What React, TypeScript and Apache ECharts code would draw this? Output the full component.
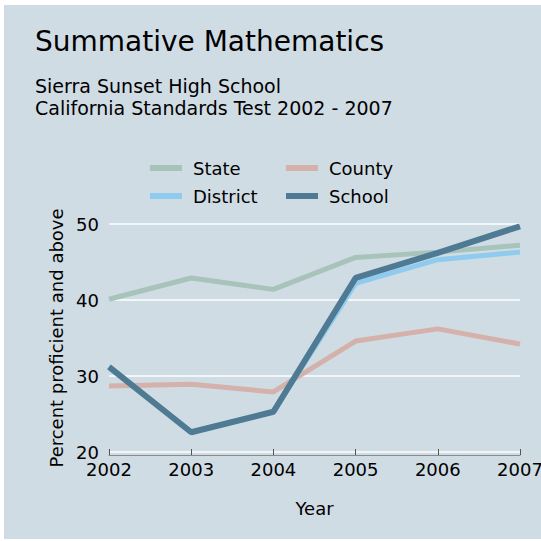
import React, { useEffect, useRef } from "react";
import * as echarts from "echarts";

const years = ["2002", "2003", "2004", "2005", "2006", "2007"];
const stateVals = [40.1, 42.9, 41.4, 45.6, 46.3, 47.2];
const countyVals = [28.7, 28.9, 27.9, 34.6, 36.2, 34.2];
const districtVals = [31.2, 22.6, 25.3, 42.2, 45.3, 46.3];
const schoolVals = [31.2, 22.6, 25.3, 42.9, 46.2, 49.7];

const FONT = "DejaVu Sans";

export default function App() {
  const ref = useRef<HTMLDivElement>(null);
  useEffect(() => {
    const chart = echarts.init(ref.current!, null, { renderer: "svg" });
    const mk = (name: string, data: number[], color: string, w: number) => ({
      name,
      type: "line",
      data,
      color,
      symbol: "none",
      lineStyle: { color, width: w },
      itemStyle: { color },
    });
    const legendText = { fontFamily: FONT, fontSize: 18, color: "#000", padding: [0, 0, 0, 6] };
    chart.setOption({
      animation: false,
      backgroundColor: "#ffffff",
      graphic: [
        {
          type: "rect",
          z: -10,
          shape: { x: 4, y: 5, width: 537, height: 534 },
          style: { fill: "#d0dce4" },
          silent: true,
        },
      ],
      title: {
        text: "Summative Mathematics",
        subtext: "Sierra Sunset High School\nCalifornia Standards Test 2002 - 2007",
        left: 30,
        top: 22,
        itemGap: 20,
        textStyle: { fontFamily: FONT, fontSize: 28, fontWeight: "normal", color: "#000" },
        subtextStyle: { fontFamily: FONT, fontSize: 19, color: "#000", lineHeight: 22 },
      },
      legend: [
        {
          left: 145,
          top: 154,
          orient: "vertical",
          data: ["State", "District"],
          icon: "rect",
          itemWidth: 32,
          itemHeight: 6,
          itemGap: 10,
          textStyle: legendText,
        },
        {
          left: 281,
          top: 154,
          orient: "vertical",
          data: ["County", "School"],
          icon: "rect",
          itemWidth: 32,
          itemHeight: 6,
          itemGap: 10,
          textStyle: legendText,
        },
      ],
      grid: {
        left: 109,
        right: 21,
        top: 224,
        bottom: 89,
        containLabel: false,
        outerBoundsMode: "none",
      },
      xAxis: {
        type: "category",
        data: years,
        boundaryGap: false,
        name: "Year",
        nameLocation: "middle",
        nameGap: 44,
        nameTextStyle: { fontFamily: FONT, fontSize: 18, color: "#000" },
        offset: 3,
        axisLine: { show: true, lineStyle: { color: "#8a8a8a", width: 1 } },
        axisTick: { show: true, inside: true, length: 6, lineStyle: { color: "#555" } },
        axisLabel: { fontFamily: FONT, fontSize: 18, color: "#000", margin: 5 },
        splitLine: { show: false },
      },
      yAxis: {
        type: "value",
        min: 20,
        max: 50,
        interval: 10,
        name: "Percent proficient and above",
        nameLocation: "middle",
        nameGap: 43,
        nameTextStyle: { fontFamily: FONT, fontSize: 18, color: "#000" },
        axisLine: { show: false },
        axisTick: { show: false },
        axisLabel: { fontFamily: FONT, fontSize: 18, color: "#000", margin: 10 },
        splitLine: { show: true, lineStyle: { color: "#ffffff", width: 1.5 } },
      },
      series: [
        mk("State", stateVals, "#a8c3ba", 5),
        mk("County", countyVals, "#d4b1ab", 5),
        mk("District", districtVals, "#8ecbee", 5),
        mk("School", schoolVals, "#4e7a93", 6),
      ],
    });
    return () => chart.dispose();
  }, []);
  return (
    <div
      ref={ref}
      style={{ position: "fixed", left: 0, top: 0, width: 541, height: 541 }}
    />
  );
}
